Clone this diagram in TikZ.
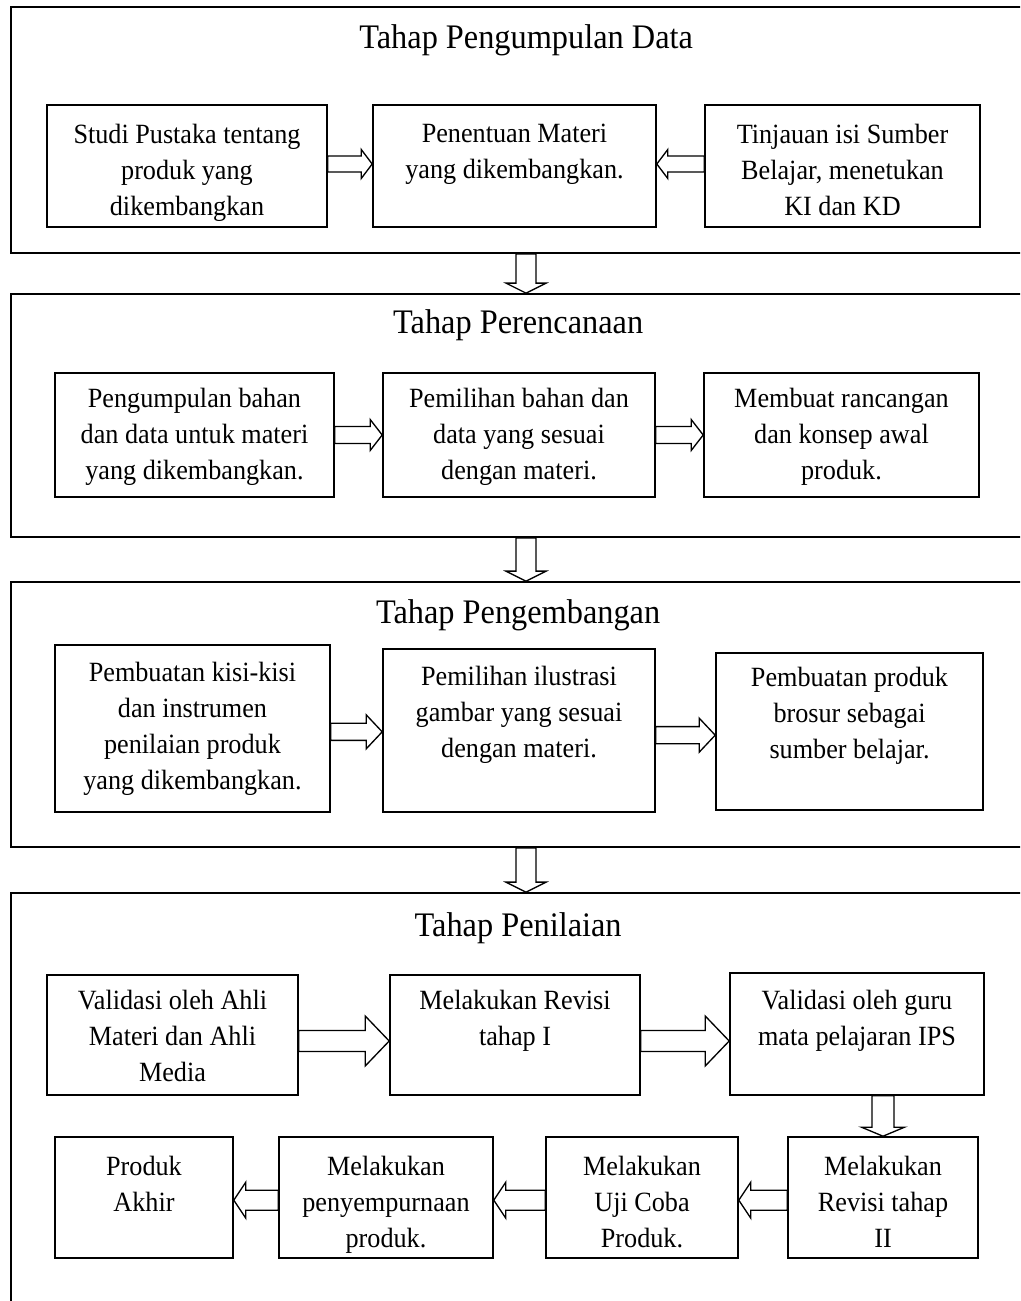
\documentclass[tikz,border=0pt]{standalone}
\usepackage{fontspec}
\setmainfont[FakeStretch=0.94]{Liberation Serif}
\usetikzlibrary{calc,fit}
\tikzset{
  x=0.75pt, y=-0.75pt,
  panel/.style={draw, line width=1.3pt, inner sep=0pt},
  box/.style={draw, line width=1.2pt, inner sep=0pt},
  txt/.style={align=center, inner sep=0pt, anchor=north,
    font=\fontsize{20.9}{27}\selectfont, execute at begin node=\strut},
  ttl/.style={inner sep=0pt, anchor=base, font=\fontsize{25.8}{30}\selectfont},
  blk/.style={draw, line width=1pt, fill=white, line join=miter},
}
% horizontal block arrow: from #1 to x of #2; shaft half #3, head half #4, head length #5
\newcommand\harr[5]{%
  \draw[blk] let \p1=#1, \p2=#2, \n1={sign(\x2-\x1)} in
    (\x1,\y1+#3) -- ({\x2-\n1*#5},\y1+#3) -- ({\x2-\n1*#5},\y1+#4) -- (\x2,\y1)
    -- ({\x2-\n1*#5},\y1-#4) -- ({\x2-\n1*#5},\y1-#3) -- (\x1,\y1-#3) -- cycle;}
% vertical block arrow: from #1 to y of #2
\newcommand\varr[5]{%
  \draw[blk] let \p1=#1, \p2=#2, \n1={sign(\y2-\y1)} in
    (\x1-#3,\y1) -- (\x1-#3,{\y2-\n1*#5}) -- (\x1-#4,{\y2-\n1*#5}) -- (\x1,\y2)
    -- (\x1+#4,{\y2-\n1*#5}) -- (\x1+#3,{\y2-\n1*#5}) -- (\x1+#3,\y1) -- cycle;}
\begin{document}
\begin{tikzpicture}
\path[use as bounding box, fill=white] (0,0) rectangle (1020,1301);
\clip (0,0) rectangle (1020,1301);

% ---------- panels ----------
\node[panel, fit={(11,7) (1060,253)}] (p1) {};
\node[panel, fit={(11,294) (1060,537)}] (p2) {};
\node[panel, fit={(11,582) (1060,847)}] (p3) {};
\node[panel, fit={(11,893) (1060,1360)}] (p4) {};

\node[ttl] (t1) at ([shift={(516,42)}]p1.north west) {Tahap Pengumpulan Data};
\node[ttl] (t2) at ([shift={(508,40)}]p2.north west) {Tahap Perencanaan};
\node[ttl] (t3) at ([shift={(508,42)}]p3.north west) {Tahap Pengembangan};
\node[ttl] (t4) at ([shift={(508,44)}]p4.north west) {Tahap Penilaian};

% ---------- panel 1 ----------
\node[box, fit={(47,105) (327,227)}] (a1) {};
\node[box, fit={(373,105) (656,227)}] (b1) {};
\node[box, fit={(705,105) (980,227)}] (c1) {};
\node[txt] (a1t) at ([yshift=-14.5pt]a1.north) {Studi Pustaka tentang\\produk yang\\dikembangkan};
\node[txt] (b1t) at ([yshift=-14.5pt]b1.north) {Penentuan Materi\\yang dikembangkan.};
\node[txt] (c1t) at ([yshift=-14.5pt]c1.north) {Tinjauan isi Sumber\\Belajar, menetukan\\KI dan KD};
\harr{([yshift=1.5pt]a1.east)}{(b1.west)}{6pt}{10.9pt}{8.25pt}
\harr{([yshift=1.5pt]c1.west)}{(b1.east)}{6pt}{10.9pt}{8.25pt}

% ---------- panel 2 ----------
\node[box, fit={(55,373) (334,497)}] (a2) {};
\node[box, fit={(383,373) (655,497)}] (b2) {};
\node[box, fit={(704,373) (979,497)}] (c2) {};
\node[txt] (a2t) at ([yshift=-11.5pt]a2.north) {Pengumpulan bahan\\dan data untuk materi\\yang dikembangkan.};
\node[txt] (b2t) at ([yshift=-11.5pt]b2.north) {Pemilihan bahan dan\\data yang sesuai\\dengan materi.};
\node[txt] (c2t) at ([yshift=-11.5pt]c2.north) {Membuat rancangan\\dan konsep awal\\produk.};
\harr{(a2.east)}{(b2.west)}{6.4pt}{11.6pt}{9pt}
\harr{(b2.east)}{(c2.west)}{6.4pt}{11.6pt}{9pt}

% ---------- panel 3 ----------
\node[box, fit={(55,645) (330,812)}] (a3) {};
\node[box, fit={(383,649) (655,812)}] (b3) {};
\node[box, fit={(716,653) (983,810)}] (c3) {};
\node[txt] (a3t) at ([yshift=-13pt]a3.north) {Pembuatan kisi-kisi\\dan instrumen\\penilaian produk\\yang dikembangkan.};
\node[txt] (b3t) at ([yshift=-13pt]b3.north) {Pemilihan ilustrasi\\gambar yang sesuai\\dengan materi.};
\node[txt] (c3t) at ([yshift=-11pt]c3.north) {Pembuatan produk\\brosur sebagai\\sumber belajar.};
\harr{([yshift=-2.5pt]a3.east)}{(b3.west)}{6.4pt}{12.75pt}{12pt}
\harr{([yshift=-3.5pt]b3.east)}{(c3.west)}{6.4pt}{12.75pt}{12pt}

% ---------- panel 4 ----------
\node[box, fit={(47,975) (298,1095)}] (a4) {};
\node[box, fit={(390,975) (640,1095)}] (b4) {};
\node[box, fit={(730,973) (984,1095)}] (c4) {};
\node[box, fit={(788,1137) (978,1258)}] (d4) {};
\node[box, fit={(546,1137) (738,1258)}] (e4) {};
\node[box, fit={(279,1137) (493,1258)}] (f4) {};
\node[box, fit={(55,1137) (233,1258)}] (g4) {};
\node[txt] (a4t) at ([yshift=-12pt]a4.north) {Validasi oleh Ahli\\Materi dan Ahli\\Media};
\node[txt] (b4t) at ([yshift=-12pt]b4.north) {Melakukan Revisi\\tahap I};
\node[txt] (c4t) at ([yshift=-13pt]c4.north) {Validasi oleh guru\\mata pelajaran IPS};
\node[txt] (d4t) at ([yshift=-14.5pt]d4.north) {Melakukan\\Revisi tahap\\II};
\node[txt] (e4t) at ([yshift=-14.5pt]e4.north) {Melakukan\\Uji Coba\\Produk.};
\node[txt] (f4t) at ([yshift=-14.5pt]f4.north) {Melakukan\\penyempurnaan\\produk.};
\node[txt] (g4t) at ([yshift=-14.5pt]g4.north) {Produk\\Akhir};
\harr{([yshift=-4.5pt]a4.east)}{(b4.west)}{7.9pt}{18.75pt}{18pt}
\harr{([yshift=-4.5pt]b4.east)}{(c4.west)}{7.9pt}{18.75pt}{18pt}
\varr{(d4.north |- c4.south)}{(d4.north)}{8.25pt}{16.1pt}{6.75pt}
\harr{([yshift=-2pt]d4.west)}{(e4.east)}{7.5pt}{13.5pt}{9pt}
\harr{([yshift=-2pt]e4.west)}{(f4.east)}{7.5pt}{13.5pt}{9pt}
\harr{([yshift=-2pt]f4.west)}{(g4.east)}{7.5pt}{13.5pt}{9pt}

% ---------- arrows between panels ----------
\coordinate (ax) at (526,0);
\varr{(ax |- p1.south)}{(ax |- p2.north)}{7.5pt}{15pt}{7.5pt}
\varr{(ax |- p2.south)}{(ax |- p3.north)}{7.5pt}{15pt}{7.5pt}
\varr{(ax |- p3.south)}{(ax |- p4.north)}{7.5pt}{15pt}{7.5pt}
\end{tikzpicture}
\end{document}
